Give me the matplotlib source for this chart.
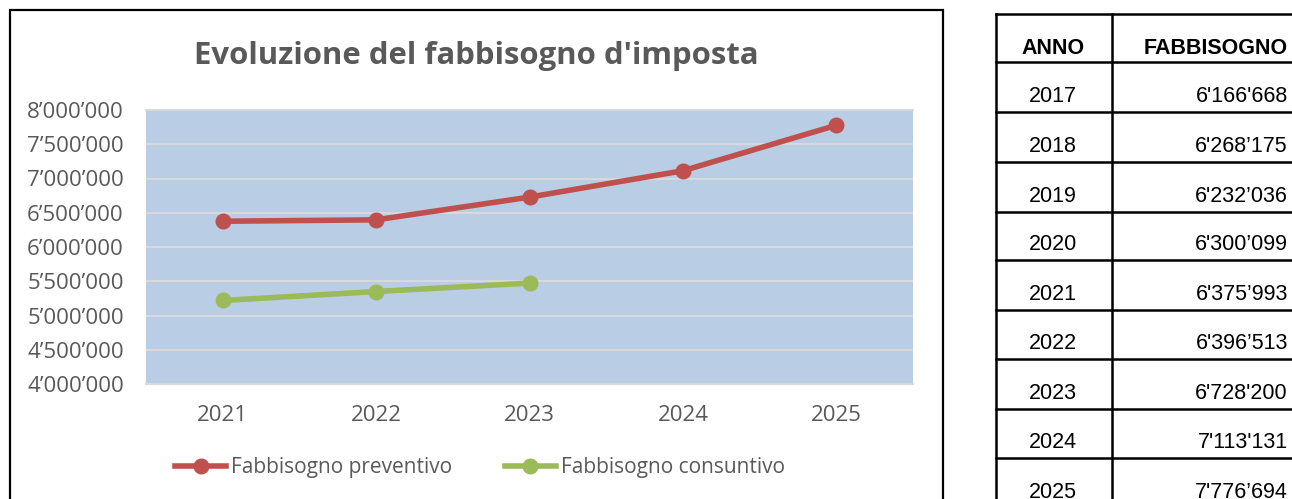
import matplotlib.pyplot as plt
from matplotlib.lines import Line2D
from matplotlib.patches import Rectangle
from matplotlib.ticker import FuncFormatter

W, H = 1292, 499

years = ["2021", "2022", "2023", "2024", "2025"]
preventivo = [6375993, 6396513, 6728200, 7113131, 7776694]
consuntivo = [5219000, 5350000, 5473000]

table_years = ["2017", "2018", "2019", "2020", "2021", "2022", "2023", "2024", "2025"]
table_values = ["6'166'668", "6'268\u2019175", "6'232\u2019036", "6'300\u2019099", "6'375\u2019993",
                "6'396\u2019513", "6'728'200", "7'113'131", "7'776\u2019694"]

red = "#C0504D"
green = "#9BBB59"
gray = "#595959"
chart_font = "Open Sans"
table_font = "Liberation Sans"


def fx(x):
    return x / W


def fy(y):
    return 1 - y / H


fig = plt.figure(figsize=(W / 100, H / 100), dpi=100)

# chart frame
fig.add_artist(Rectangle((fx(10), fy(530)), fx(933), 520 / H, transform=fig.transFigure,
                         fill=False, edgecolor="black", linewidth=1.6))

ax = fig.add_axes([fx(146), fy(384), fx(913 - 146), (384 - 110) / H])
ax.set_facecolor("#B9CDE5")
x = range(len(years))
ax.plot(x, preventivo, color=red, linewidth=4, marker="o", markersize=10.5,
        label="Fabbisogno preventivo", clip_on=False, zorder=3)
ax.plot(range(len(consuntivo)), consuntivo, color=green, linewidth=4, marker="o", markersize=10.5,
        label="Fabbisogno consuntivo", clip_on=False, zorder=3)
ax.set_xlim(-0.5, len(years) - 0.5)
ax.set_ylim(4000000, 8000000)
ax.set_yticks(range(4000000, 8000001, 500000))
ax.yaxis.set_major_formatter(FuncFormatter(lambda v, p: f"{int(v):,}".replace(",", "\u2019")))
ax.set_xticks(list(x))
ax.set_xticklabels(years)
ax.grid(axis="y", color="#D9D9D9", linewidth=1.5)
ax.set_axisbelow(True)
for s in ["left", "right"]:
    ax.spines[s].set_visible(False)
for s in ["top", "bottom"]:
    ax.spines[s].set_color("#D9D9D9")
    ax.spines[s].set_linewidth(1.5)
ax.tick_params(length=0, labelsize=16, labelcolor=gray)
ax.tick_params(axis="y", pad=16)
ax.tick_params(axis="x", pad=15)
for lbl in ax.get_xticklabels() + ax.get_yticklabels():
    lbl.set_fontfamily(chart_font)

fig.text(fx(476), fy(56), "Evoluzione del fabbisogno d'imposta", ha="center", va="center",
         fontsize=22.4, fontweight="bold", color=gray, family=chart_font)

leg = ax.legend(loc="center", bbox_to_anchor=(fx(480), fy(468)), bbox_transform=fig.transFigure,
                ncol=2, frameon=False, handlelength=2.45, handletextpad=0.25, columnspacing=2.5,
                prop={"family": chart_font, "size": 15})
for t in leg.get_texts():
    t.set_color(gray)

# table
rows = [14, 62, 112, 162, 212, 260, 310, 359, 409, 458, 508]
lw = 1.8
for r in rows:
    fig.add_artist(Line2D([fx(996), fx(1300)], [fy(r), fy(r)], transform=fig.transFigure,
                          color="black", linewidth=lw))
for c in [996, 1112]:
    fig.add_artist(Line2D([fx(c), fx(c)], [fy(14), fy(520)], transform=fig.transFigure,
                          color="black", linewidth=lw))

fs = 15.5
fig.text(fx(1053), fy(48), "ANNO", ha="center", va="center", fontsize=fs, fontweight="bold",
         family=table_font)
fig.text(fx(1288), fy(48), "FABBISOGNO", ha="right", va="center", fontsize=fs, fontweight="bold",
         family=table_font)
for i, (yr, val) in enumerate(zip(table_years, table_values)):
    yb = rows[i + 2] - 10
    fig.text(fx(1053), fy(yb), yr, ha="center", va="baseline", fontsize=fs, family=table_font)
    fig.text(fx(1288), fy(yb), val, ha="right", va="baseline", fontsize=fs, family=table_font)

fig.savefig("out.png", dpi=100)
